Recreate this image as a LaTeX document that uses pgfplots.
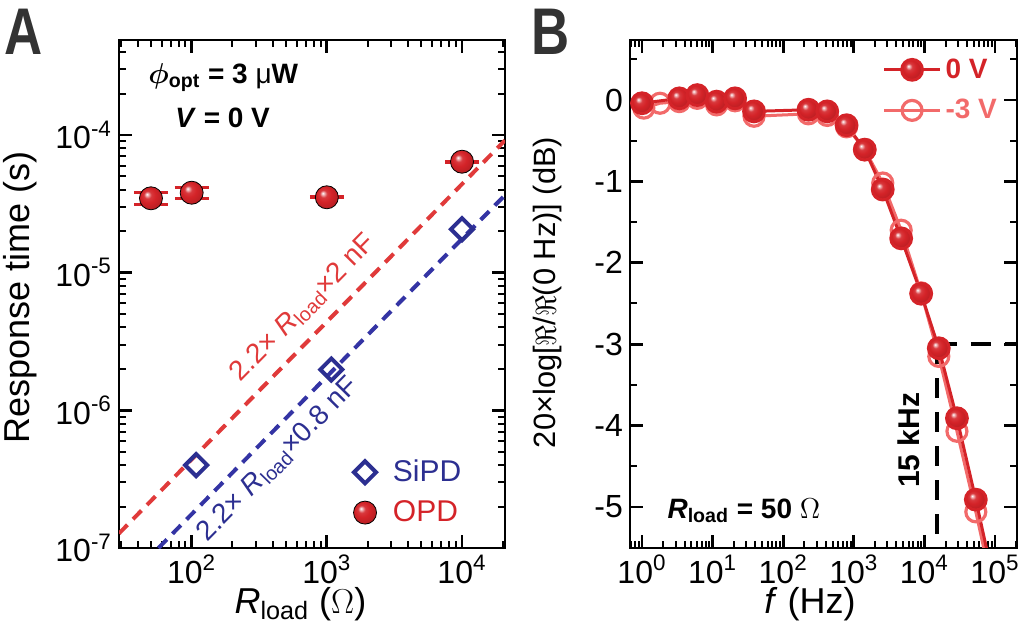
\documentclass[border=0pt]{standalone}
\usepackage{graphicx}
\usepackage{fontspec}
\setmainfont{Liberation Sans}
\usepackage{pgfplots}
\pgfplotsset{compat=1.18}
\definecolor{opdred}{HTML}{D42328}
\definecolor{dashred}{HTML}{E03A3A}
\definecolor{lightred}{HTML}{F26A6A}
\definecolor{sipdblue}{HTML}{2C2F91}
\definecolor{dashblue}{HTML}{3434A4}
\definecolor{panelgray}{HTML}{333333}
\makeatletter
\pgfdeclareradialshading[tikz@ball]{ball}{\pgfqpoint{-9bp}{9bp}}{%
  color(0bp)=(white); color(3bp)=(tikz@ball!35!white); color(8bp)=(tikz@ball!90!white);
  color(16bp)=(tikz@ball); color(30bp)=(tikz@ball!85!black); color(50bp)=(tikz@ball!80!black)}
\makeatother
\newcommand{\fs}[1]{\fontsize{#1}{#1}\selectfont}
\pgfplotsset{
  myaxis/.style={
    scale only axis, width=193pt, height=254pt,
    axis line style={line width=1.4pt},
    tick align=inside,
    major tick length=6.5pt, minor tick length=3.5pt,
    every major tick/.append style={line width=1.4pt, black},
    every minor tick/.append style={line width=1pt, black},
    tick label style={font=\fs{16}},
    label style={font=\fs{18}},
    /pgf/number format/assume math mode=true,
  },
}
\begin{document}
\begin{tikzpicture}[x=1pt,y=1pt]
\useasboundingbox (0,0) rectangle (512,321);
\node[anchor=base west, inner sep=0, text=panelgray, font=\fs{33}\bfseries] at (2.2,293.5) {\scalebox{0.8}[1]{A}};
\node[anchor=base west, inner sep=0, text=panelgray, font=\fs{33}\bfseries] at (265.5,293.5) {\scalebox{0.8}[1]{B}};

% ---------------- Panel A ----------------
\begin{axis}[myaxis, at={(59.5pt,47pt)}, anchor=south west,
  xmode=log, ymode=log,
  xmin=29, xmax=20800, ymin=1e-7, ymax=4.9e-4,
  xtick={100,1000,10000},
  xticklabels={10\textsuperscript{2},10\textsuperscript{3},10\textsuperscript{4}},
  minor xtick={30,40,50,60,70,80,90,200,300,400,500,600,700,800,900,2000,3000,4000,5000,6000,7000,8000,9000,20000},
  ytick={1e-7,1e-6,1e-5,1e-4},
  yticklabels={10\textsuperscript{-7},10\textsuperscript{-6},10\textsuperscript{-5},10\textsuperscript{-4}},
  minor ytick={2e-7,3e-7,4e-7,5e-7,6e-7,7e-7,8e-7,9e-7,2e-6,3e-6,4e-6,5e-6,6e-6,7e-6,8e-6,9e-6,2e-5,3e-5,4e-5,5e-5,6e-5,7e-5,8e-5,9e-5,2e-4,3e-4,4e-4},
  xlabel={\textit{R}\textsubscript{load} ($\Omega$)},
  ylabel={Response time (s)},
  xlabel style={at={(axis description cs:0.47,-0.11)}, anchor=center},
  ylabel style={at={(axis description cs:-0.255,0.494)}, anchor=center},
  legend style={at={(rel axis cs:0.59,0.19)}, anchor=north west, draw=none, fill=none, font=\fs{15}, row sep=4pt,
    /tikz/every odd column/.append style={column sep=6pt}},
  legend cell align=left,
]
\addplot[dashred, line width=2pt, dash pattern=on 6pt off 4pt, forget plot] coordinates {(29,1.276e-7) (20800,9.15e-5)};
\addplot[dashblue, line width=2pt, dash pattern=on 6pt off 4pt, forget plot] coordinates {(56.8,1e-7) (20800,3.66e-5)};

\addplot[only marks, mark=square, mark size=3.9pt, mark options={rotate=45, line width=2pt, draw=sipdblue, fill=white}]
  coordinates {(108,4.0e-7) (1080,1.98e-6) (10000,2.07e-5)};
\addlegendentry{\textcolor{sipdblue}{SiPD}}

\addplot[only marks, mark=ball, mark size=5.75pt, mark options={ball color=opdred},
  error bars/.cd, y dir=both, y explicit,
  error bar style={opdred, line width=1.5pt},
  error mark options={rotate=90, opdred, line width=1.5pt, mark size=8.5pt}]
  coordinates {(50,3.47e-5) +- (0,0.33e-5) (100,3.81e-5) +- (0,0.34e-5) (1000,3.53e-5) +- (0,0.03e-5) (10000,6.4e-5) +- (0,0.05e-5)};
\addlegendentry{\textcolor{opdred}{OPD}}

\node[anchor=base west, font=\fs{14}\bfseries, inner sep=0] at (rel axis cs:0.075,0.915) {{\boldmath$\phi$}\textsubscript{opt} = 3 {\mdseries μ}W};
\node[anchor=base west, font=\fs{14}\bfseries, inner sep=0] at (rel axis cs:0.145,0.827) {\textit{V} = 0 V};
\node[rotate=45.5, font=\fs{14}, text=dashred] at (rel axis cs:0.478,0.472) {2.2× \textit{R}\textsubscript{load}×2 nF};
\node[rotate=45.5, font=\fs{14}, text=sipdblue] at (rel axis cs:0.412,0.174) {2.2× \textit{R}\textsubscript{load}×0.8 nF};
\end{axis}

% ---------------- Panel B ----------------
\begin{axis}[myaxis, at={(315pt,47pt)}, anchor=south west, width=193.5pt,
  xmode=log, xmin=0.676, xmax=2.05e5, ymin=-5.504, ymax=0.737,
  xtick={1,10,100,1000,10000,100000},
  xticklabels={10\textsuperscript{0},10\textsuperscript{1},10\textsuperscript{2},10\textsuperscript{3},10\textsuperscript{4},10\textsuperscript{5}},
  minor xtick={0.7,0.8,0.9,2,3,4,5,6,7,8,9,20,30,40,50,60,70,80,90,200,300,400,500,600,700,800,900,2000,3000,4000,5000,6000,7000,8000,9000,20000,30000,40000,50000,60000,70000,80000,90000,200000},
  ytick={-5,-4,-3,-2,-1,0},
  minor ytick={-5.5,-4.5,-3.5,-2.5,-1.5,-0.5,0.5},
  xlabel={\textit{f} (Hz)},
  ylabel={20×log[$\Re$/$\Re$(0 Hz)] (dB)},
  xlabel style={at={(axis description cs:0.465,-0.11)}, anchor=center},
  ylabel style={at={(axis description cs:-0.212,0.503)}, anchor=center, font=\fs{15.4}},
  legend style={at={(rel axis cs:0.975,0.98)}, anchor=north east, draw=none, fill=none, font=\fs{14}\bfseries, row sep=5pt},
  legend cell align=left,
  reverse legend,
  legend image code/.code={\draw[mark repeat=2,mark phase=2,#1] plot coordinates {(0pt,0pt) (14pt,0pt) (28pt,0pt)};},
]
\addplot[black, line width=2pt, dash pattern=on 10pt off 7pt, forget plot] coordinates {(15000,-3) (15000,-5.504)};
\addplot[black, line width=2pt, dash pattern=on 10pt off 7pt, forget plot] coordinates {(15000,-3) (2.05e5,-3)};

\addplot[lightred, line width=1.5pt, forget plot] coordinates {(53500,-5.06) (80000,-5.75)};
\addplot[lightred, line width=1.5pt, mark=o, mark size=5pt, mark options={fill=white, line width=1.6pt}]
 coordinates {(1.06,-0.10) (1.8,-0.04) (3.38,-0.02) (6.07,0.02) (11.4,-0.06) (20.8,-0.01) (38.6,-0.20) (228,-0.17) (420,-0.19) (790,-0.33) (1430,-0.61) (2570,-1.02) (4690,-1.60) (9000,-2.37) (16000,-3.15) (28900,-4.07) (53500,-5.06)};
\addlegendentry{\textcolor{lightred}{-3 V}}

\addplot[opdred, line width=1.5pt, forget plot] coordinates {(53500,-4.91) (80000,-5.6)};
\addplot[opdred, line width=1.5pt, mark=ball, mark size=5.2pt, mark options={ball color=opdred}]
 coordinates {(1.0,-0.04) (3.38,0.02) (6.07,0.06) (11.4,-0.02) (20.8,0.02) (38.6,-0.14) (228,-0.12) (420,-0.14) (790,-0.31) (1430,-0.61) (2570,-1.10) (4690,-1.70) (9000,-2.38) (16000,-3.05) (28900,-3.91) (53500,-4.91)};
\addlegendentry{\textcolor{opdred}{0 V}}

\node[rotate=90, font=\fs{15}\bfseries] at (axis cs:6000,-4.18) {15 kHz};
\node[anchor=base west, font=\fs{14}\bfseries, inner sep=0] at (rel axis cs:0.096,0.059) {\textit{R}\textsubscript{load} = 50 {\mdseries$\Omega$}};
\end{axis}
\end{tikzpicture}
\end{document}
